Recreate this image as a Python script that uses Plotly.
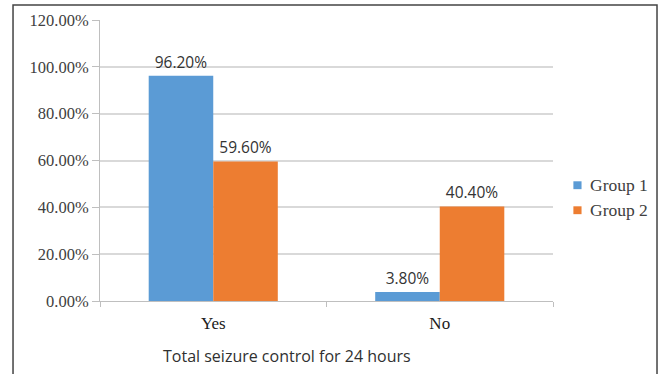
import plotly.graph_objects as go

categories = ["Yes", "No"]
group1 = [96.2, 3.8]
group2 = [59.6, 40.4]
series_names = ["Group 1", "Group 2"]
y_ticks = [0, 20, 40, 60, 80, 100, 120]
y_tick_labels = [f"{v:.2f}%" for v in y_ticks]

blue = "#5B9BD5"
orange = "#ED7D31"
text_color = "#404040"
serif = "Liberation Serif, Times New Roman, serif"
sans = "Open Sans, Liberation Sans, sans-serif"
colors = [blue, orange]

fig = go.Figure()
for name, vals, color in zip(series_names, [group1, group2], colors):
    fig.add_trace(go.Bar(
        x=categories, y=vals, name=name, marker=dict(color=color, line=dict(width=0)),
        text=[f"{v:.2f}%" for v in vals], textposition="outside",
        textfont=dict(family=sans, size=15.5, color="#333333"),
        cliponaxis=False, showlegend=False,
    ))

# compact legend at the right: small square swatch + serif label
shapes = []
annotations = []
legend_rows_y = [0.412, 0.323]
for name, color, yc in zip(series_names, colors, legend_rows_y):
    shapes.append(dict(type="rect", xref="paper", yref="paper",
                       x0=1.045, x1=1.063, y0=yc - 0.014, y1=yc + 0.014,
                       fillcolor=color, line=dict(width=0)))
    annotations.append(dict(text=name, xref="paper", yref="paper", x=1.077, y=yc,
                            xanchor="left", yanchor="middle", showarrow=False,
                            font=dict(family=serif, size=17.5, color=text_color)))

annotations.append(dict(text="Total seizure control for 24 hours", xref="paper", yref="paper",
                        x=0.413, y=-0.196, xanchor="center", yanchor="middle", showarrow=False,
                        font=dict(family=sans, size=16, color="#303030")))
shapes.append(dict(type="rect", xref="paper", yref="paper",
                   x0=-0.192, x1=1.2296, y0=-0.4, y1=1.0534,
                   line=dict(color="#444444", width=1.5), layer="above"))

fig.update_layout(
    width=661, height=374,
    margin=dict(l=100, r=108, t=20, b=73, autoexpand=False),
    paper_bgcolor="white", plot_bgcolor="white",
    barmode="group", bargap=0.43, bargroupgap=0,
    xaxis=dict(showline=True, linecolor="#bfbfbf", linewidth=1,
               ticks="outside", tickson="boundaries", ticklen=5, tickcolor="#bfbfbf",
               ticklabelstandoff=7,
               tickfont=dict(family=serif, size=17, color="#202020"),
               showgrid=False),
    yaxis=dict(range=[0, 120], tickvals=y_ticks, ticktext=y_tick_labels,
               showline=True, linecolor="#bfbfbf", linewidth=1,
               ticks="outside", ticklen=7, tickcolor="#bfbfbf",
               gridcolor="#d9d9d9", gridwidth=1.5, zeroline=False,
               tickfont=dict(family=serif, size=16.5, color=text_color)),
    annotations=annotations,
    shapes=shapes,
)

fig.write_html("out.html")
